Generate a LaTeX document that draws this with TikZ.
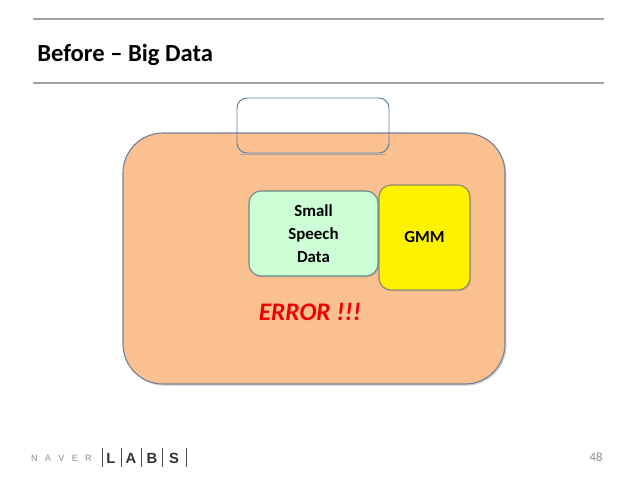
\documentclass[tikz,border=0pt]{standalone}
\usepackage{fontspec}
\setmainfont{Carlito}
\newfontfamily\logofont{Liberation Sans}
\usetikzlibrary{positioning,shadows}

\definecolor{rulegray}{HTML}{A0A0A0}
\definecolor{bigfill}{HTML}{FAC090}
\definecolor{bigline}{HTML}{71829A}
\definecolor{tabline}{HTML}{5A7FA8}
\definecolor{smallfill}{HTML}{CCFFD6}
\definecolor{smallline}{HTML}{6A8A8A}
\definecolor{gmmline}{HTML}{8A8A70}
\definecolor{errred}{HTML}{F00000}
\definecolor{naver}{HTML}{8C8C8C}

\begin{document}
\begin{tikzpicture}[
  x=0.025cm, y=-0.025cm,
  every node/.style={align=center},
  rulebar/.style={draw=rulegray, line width=1.4pt},
  bigbox/.style={draw=bigline, fill=bigfill, line width=0.8pt, rounded corners=1cm,
    minimum width=382*0.025cm, minimum height=251*0.025cm, inner sep=0pt,
    drop shadow={opacity=0.35, shadow xshift=1pt, shadow yshift=-1.2pt}},
  tabbox/.style={draw=tabline, line width=0.7pt, rounded corners=0.25cm,
    minimum width=152*0.025cm, minimum height=55*0.025cm, inner sep=0pt},
  datanode/.style={draw=smallline, fill=smallfill, line width=0.8pt, rounded corners=0.3cm,
    minimum width=129*0.025cm, minimum height=85*0.025cm, inner sep=0pt,
    font=\bfseries\fontsize{12}{16.5}\selectfont,
    drop shadow={opacity=0.3, shadow xshift=0.8pt, shadow yshift=-1pt}},
  gmmnode/.style={draw=gmmline, fill=yellow, line width=0.8pt, rounded corners=0.3cm,
    minimum width=91*0.025cm, minimum height=105*0.025cm, inner sep=0pt,
    font=\bfseries\fontsize{12}{15}\selectfont,
    drop shadow={opacity=0.3, shadow xshift=0.8pt, shadow yshift=-1pt}},
  logoletter/.style={font=\logofont\fontsize{6.5}{6.5}\selectfont, text=naver, inner sep=0pt},
  labsletter/.style={font=\logofont\bfseries\fontsize{10.5}{10.5}\selectfont, text=black!80, inner sep=0pt},
  logobar/.style={draw=black!70, line width=0.5pt}
]
\useasboundingbox (0,0) rectangle (638,479);

% --- Title ---
\draw[rulebar] (33,19) coordinate (ruletopL) -- (604,19) coordinate (ruletopR);
\node[anchor=base west, inner sep=0pt, font=\bfseries\fontsize{17.5}{20}\selectfont] (title) at (37,62) {Before -- Big Data};
\draw[rulebar] (33,83) coordinate (rulebotL) -- (604,83) coordinate (rulebotR);

% --- Big box with the empty tab on top ---
\node[bigbox] (big) at (314,258.5) {};
\node[tabbox] (tab) at (313,125.5) {};
\draw[black!35, line width=0.8pt, line cap=round] ([xshift=3pt, yshift=-1pt]tab.south west) -- ([xshift=-3pt, yshift=-1pt]tab.south east);

% --- Inner boxes ---
\node[datanode] (small) at (313.5,233.5) {Small\\Speech\\Data};
\node[gmmnode] (gmm) at (424.5,237.5) {GMM};

\node[font=\bfseries\itshape\fontsize{18}{20}\selectfont, text=errred] (error) at (310,312) {ERROR !!!};

% --- Footer ---
\foreach \ch [count=\i] in {N,A,V,E,R}
  \node[logoletter] (nv\i) at ({21+13.5*\i},458) {\ch};
\foreach \ch/\xx [count=\i] in {L/111,A/131,B/152,S/174}
  \node[labsletter] (lb\i) at (\xx,458) {\ch};
\foreach \xx in {102,121,141,162,186}
  \draw[logobar] (\xx,448) -- (\xx,467);

\node[font=\fontsize{9}{10}\selectfont, text=naver] (page) at (596,457) {48};
\end{tikzpicture}
\end{document}
